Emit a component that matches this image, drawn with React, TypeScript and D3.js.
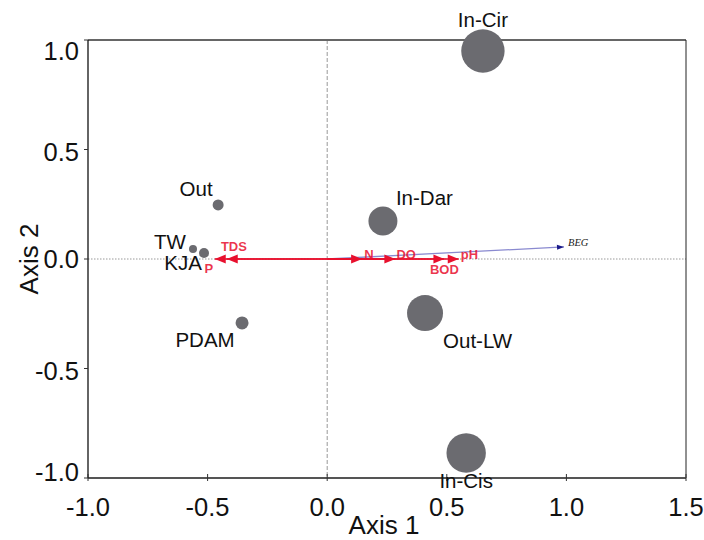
import React from 'react'
import * as d3 from 'd3'

// sites: name, axis1, axis2, bubble size
const siteNames = ['In-Cir', 'In-Dar', 'Out-LW', 'In-Cis', 'Out', 'TW', 'KJA', 'PDAM']
const siteX = [0.651, 0.233, 0.409, 0.581, -0.456, -0.561, -0.515, -0.356]
const siteY = [0.95, 0.174, -0.247, -0.886, 0.247, 0.046, 0.027, -0.292]
const siteR = [21.7, 14.5, 18, 19.7, 5.5, 4, 5, 6.5]
// label offsets in px relative to point
const labelDx = [0, 13, 18, 0, -22, -23, -21, -37]
const labelDy = [-24, -16, 35, 35, -9, 0, 17, 24]
const labelAnchor = ['middle', 'start', 'start', 'middle', 'middle', 'middle', 'middle', 'middle']

// environmental vectors
const envNames = ['TDS', 'P', 'N', 'DO', 'BOD', 'pH']
const envX = [-0.42, -0.47, 0.146, 0.285, 0.49, 0.55]
const envY = [0, 0, 0, 0, 0, 0]
const envLx = [-0.39, -0.495, 0.175, 0.33, 0.49, 0.595]
const envLy = [0.055, -0.045, 0.02, 0.02, -0.05, 0.02]

const begX = 0.99
const begY = 0.055

const xTicks = [-1.0, -0.5, 0.0, 0.5, 1.0, 1.5]
const yTicks = [-1.0, -0.5, 0.0, 0.5, 1.0]

export default function App() {
  const W = 704
  const H = 540
  const x = d3.scaleLinear().domain([-1, 1.5]).range([88, 686])
  const y = d3.scaleLinear().domain([-1, 1]).range([478, 40])
  const font = 'Liberation Sans, Arial, sans-serif'
  const red = '#e8102e'

  const arrowHead = (x0: number, y0: number, x1: number, y1: number, color: string, len: number, wid: number) => {
    const a = Math.atan2(y1 - y0, x1 - x0)
    const p1 = [x1 - len * Math.cos(a) + wid * Math.sin(a), y1 - len * Math.sin(a) - wid * Math.cos(a)]
    const p2 = [x1 - len * Math.cos(a) - wid * Math.sin(a), y1 - len * Math.sin(a) + wid * Math.cos(a)]
    return <polygon points={`${x1},${y1} ${p1[0]},${p1[1]} ${p2[0]},${p2[1]}`} fill={color} />
  }

  // end labels of the y axis sit inside the frame
  const yLabelShift = (t: number) => (t === 1 ? 11 : t === -1 ? -6 : t === 0.5 ? 2 : t === -0.5 ? 2 : 0)

  return (
    <svg width={W} height={H} style={{ position: 'absolute', left: 0, top: 0, background: '#fff' }} fontFamily={font}>
      {/* reference lines */}
      <line x1={x(-1)} x2={x(1.5)} y1={y(0)} y2={y(0)} stroke="#999" strokeWidth={1} strokeDasharray="1.5,1.5" />
      <line x1={x(0)} x2={x(0)} y1={y(1)} y2={y(-1)} stroke="#999" strokeWidth={1} strokeDasharray="4,2" />

      {/* frame */}
      <line x1={x(-1)} x2={x(1.5)} y1={y(1)} y2={y(1)} stroke="#666" strokeWidth={2} />
      <line x1={x(1.5)} x2={x(1.5)} y1={y(1)} y2={y(-1)} stroke="#222" strokeWidth={1} />
      <line x1={x(-1)} x2={x(1.5)} y1={y(-1)} y2={y(-1)} stroke="#555" strokeWidth={2} />
      <line x1={x(-1)} x2={x(-1)} y1={y(1)} y2={y(-1)} stroke="#111" strokeWidth={1.3} />

      {/* ticks */}
      {xTicks.map((t) => (
        <g key={'xt' + t}>
          <line x1={x(t)} x2={x(t)} y1={y(-1) - 4} y2={y(-1) + 3} stroke="#333" strokeWidth={1} />
          <text x={x(t)} y={516} fontSize={25.5} textAnchor="middle" fill="#111">{t.toFixed(1)}</text>
        </g>
      ))}
      {yTicks.map((t) => (
        <g key={'yt' + t}>
          <line x1={x(-1) - 4} x2={x(-1)} y1={y(t)} y2={y(t)} stroke="#333" strokeWidth={1} />
          <text x={x(-1) - 9} y={y(t) + 9 + yLabelShift(t)} fontSize={25.5} textAnchor="end" fill="#111">{t.toFixed(1)}</text>
        </g>
      ))}
      <text x={384} y={534} fontSize={26} textAnchor="middle" fill="#111">Axis 1</text>
      <text transform={`translate(38,${y(0)}) rotate(-90)`} fontSize={26} textAnchor="middle" fill="#111">Axis 2</text>

      {/* BEG vector */}
      <line x1={x(0)} y1={y(0)} x2={x(begX)} y2={y(begY)} stroke="#8a8ad0" strokeWidth={1.3} />
      {arrowHead(x(0), y(0), x(begX), y(begY), '#1a1a8a', 7, 2.5)}
      <text x={x(begX) + 4} y={y(begY) - 1} fontSize={10.5} fontStyle="italic" fontFamily="Liberation Serif, serif" fill="#222">BEG</text>

      {/* environmental vectors */}
      {envNames.map((n, i) => (
        <g key={n}>
          <line x1={x(0)} y1={y(0)} x2={x(envX[i])} y2={y(envY[i])} stroke={red} strokeWidth={1.5} />
          {arrowHead(x(0), y(0), x(envX[i]), y(envY[i]), red, 11, 4.5)}
          <text x={x(envLx[i])} y={y(envLy[i]) + 4.5} fontSize={13} fontWeight="bold" textAnchor="middle" fill={red} fillOpacity={0.85}>{n}</text>
        </g>
      ))}

      {/* sites */}
      {siteNames.map((n, i) => (
        <g key={n}>
          <circle cx={x(siteX[i])} cy={y(siteY[i])} r={siteR[i]} fill="#6b6b70" />
          <text x={x(siteX[i]) + labelDx[i]} y={y(siteY[i]) + labelDy[i]} fontSize={20.5} textAnchor={labelAnchor[i]} fill="#111">{n}</text>
        </g>
      ))}
    </svg>
  )
}
